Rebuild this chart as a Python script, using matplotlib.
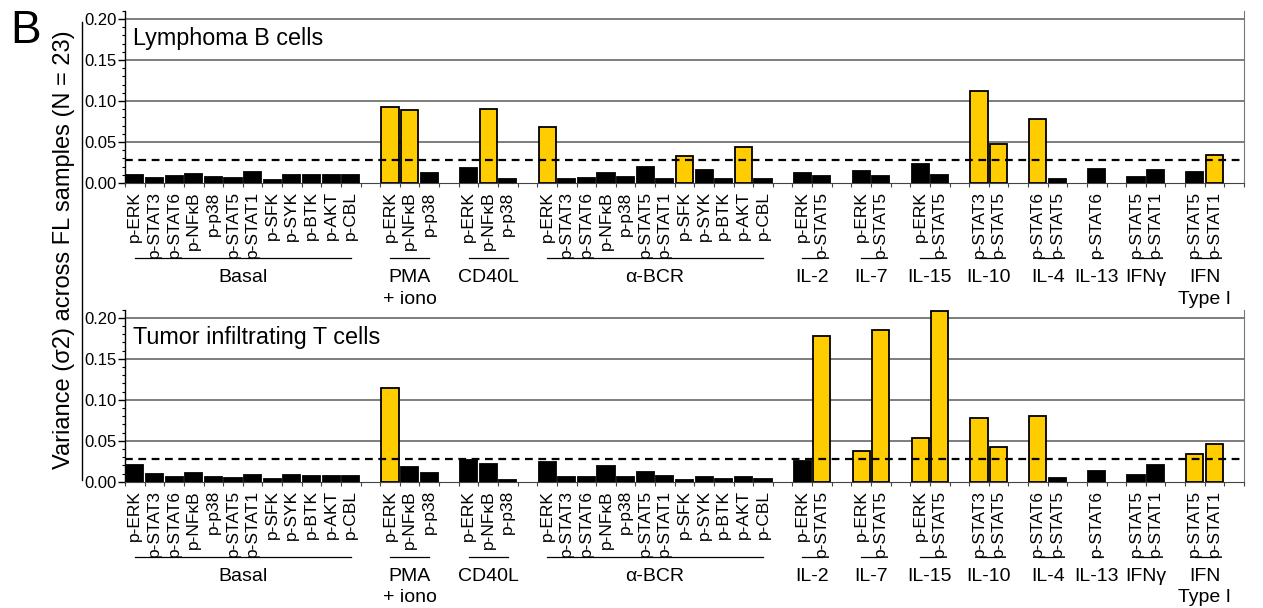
import numpy as np
import matplotlib.pyplot as plt
from matplotlib.lines import Line2D

plt.rcParams['font.family'] = ['Liberation Sans', 'DejaVu Sans']

# stimulation groups and the phospho-readouts measured in each
groups = ['Basal', 'PMA\n+ iono', 'CD40L', 'α-BCR', 'IL-2', 'IL-7', 'IL-15',
          'IL-10', 'IL-4', 'IL-13', 'IFNγ', 'IFN\nType I']
basal_markers = ['p-ERK', 'p-STAT3', 'p-STAT6', 'p-NFκB', 'p-p38', 'p-STAT5',
                 'p-STAT1', 'p-SFK', 'p-SYK', 'p-BTK', 'p-AKT', 'p-CBL']
markers = [
    basal_markers,
    ['p-ERK', 'p-NFκB', 'p-p38'],
    ['p-ERK', 'p-NFκB', 'p-p38'],
    basal_markers,
    ['p-ERK', 'p-STAT5'],
    ['p-ERK', 'p-STAT5'],
    ['p-ERK', 'p-STAT5'],
    ['p-STAT3', 'p-STAT5'],
    ['p-STAT6', 'p-STAT5'],
    ['p-STAT6'],
    ['p-STAT5', 'p-STAT1'],
    ['p-STAT5', 'p-STAT1'],
]

# variance across samples, in the same order as the markers above
b_cells = [0.010, 0.0065, 0.0085, 0.011, 0.0077, 0.0065, 0.0138, 0.0033, 0.010, 0.010, 0.010, 0.010,
           0.093, 0.089, 0.0118,
           0.018, 0.090, 0.0045,
           0.068, 0.0053, 0.0065, 0.0126, 0.0073, 0.019, 0.0045, 0.033, 0.0154, 0.0045, 0.044, 0.0053,
           0.0118, 0.0081,
           0.0142, 0.0081,
           0.0236, 0.0102,
           0.1126, 0.048,
           0.0785, 0.0053,
           0.0167,
           0.0069, 0.0159,
           0.0134, 0.0337]
t_cells = [0.0203, 0.0093, 0.0057, 0.011, 0.0057, 0.0049, 0.0081, 0.0028, 0.0081, 0.0073, 0.0073, 0.0073,
           0.1138, 0.0183, 0.011,
           0.026, 0.0215, 0.0024,
           0.024, 0.0053, 0.0053, 0.019, 0.0053, 0.0114, 0.0065, 0.0024, 0.0053, 0.0037, 0.0061, 0.0037,
           0.0248, 0.178,
           0.0378, 0.185,
           0.0533, 0.208,
           0.0776, 0.0427,
           0.080, 0.0049,
           0.0134,
           0.0081, 0.0207,
           0.0337, 0.0459]
threshold = 0.028

panel_titles = ['Lymphoma B cells', 'Tumor infiltrating T cells']

# x positions: one empty slot between groups
positions = []
group_pos = []
cur = 0
for m in markers:
    p = list(range(cur, cur + len(m)))
    positions += p
    group_pos.append(p)
    cur += len(m) + 1
positions = np.array(positions)
labels = [lab for m in markers for lab in m]
n_slots = cur - 1

W, H = 1263, 608
fig = plt.figure(figsize=(W / 100, H / 100), dpi=100)

def fx(px):
    return px / W

def fy(py):
    return 1 - py / H

ax_left, ax_right = 125, 1244
panels = [(183, b_cells), (481.7, t_cells)]
ymax = 0.21
px_per_unit = 820

for (base, vals), title in zip(panels, panel_titles):
    h = ymax * px_per_unit
    ax = fig.add_axes([fx(ax_left), fy(base), fx(ax_right - ax_left), h / H])
    vals = np.array(vals)
    colors = np.where(vals > threshold, '#FFCC00', 'black')
    ax.bar(positions, vals, width=0.87, color=colors, edgecolor='black', linewidth=1.3, zorder=3)
    for g in [0.05, 0.10, 0.15, 0.20]:
        ax.axhline(g, color='#5a5a5a', lw=1.1, zorder=1)
    ax.axhline(threshold, color='black', lw=1.6, ls=(0, (3.5, 2.5)), zorder=4)

    ax.set_xlim(-0.5, n_slots + 0.5)
    ax.set_ylim(0, ymax)
    ax.set_yticks([0, 0.05, 0.10, 0.15, 0.20])
    ax.set_yticklabels(['0.00', '0.05', '0.10', '0.15', '0.20'], fontsize=12)
    ax.set_yticks(np.arange(0, 0.215, 0.01), minor=True)
    ax.tick_params(axis='y', which='major', length=5, width=1, pad=1)
    ax.tick_params(axis='y', which='minor', length=2.5, width=0.8)

    ax.set_xticks(positions)
    ax.set_xticklabels(labels, rotation=90, fontsize=12.5)
    ax.set_xticks(np.arange(-0.5, n_slots + 1, 1), minor=True)
    ax.tick_params(axis='x', which='major', length=0, pad=6)
    ax.tick_params(axis='x', which='minor', length=3, width=0.8, color='#444444')

    ax.spines['top'].set_visible(False)
    ax.spines['right'].set_color('#777777')
    ax.spines['bottom'].set_color('#444444')
    ax.spines['left'].set_linewidth(1)

    # group underlines and names below the marker labels
    tr = ax.get_xaxis_transform()
    for name, p in zip(groups, group_pos):
        x0, x1 = p[0], p[-1]
        if x0 == x1:
            x0, x1 = x0 - 0.2, x1 + 0.2
        yl = -75 / h
        ax.plot([x0, x1], [yl, yl], transform=tr, color='black', lw=0.9, clip_on=False)
        xc = (p[0] + p[-1]) / 2
        ax.text(xc, -86 / h, name, transform=tr, ha='center', va='top', fontsize=14,
                linespacing=1.35)

    fig.text(fx(133), fy(base - 138), title, fontsize=16.8, va='baseline', ha='left')

fig.text(fx(10), fy(43), 'B', fontsize=33, va='baseline', ha='left')
fig.text(fx(64), fy(250), 'Variance (σ2) across FL samples (N = 23)', rotation=90,
         fontsize=17, ha='center', va='center')
fig.add_artist(Line2D([fx(82), fx(82)], [fy(22), fy(480)], color='black', lw=1))

fig.savefig('out.png', dpi=100)
